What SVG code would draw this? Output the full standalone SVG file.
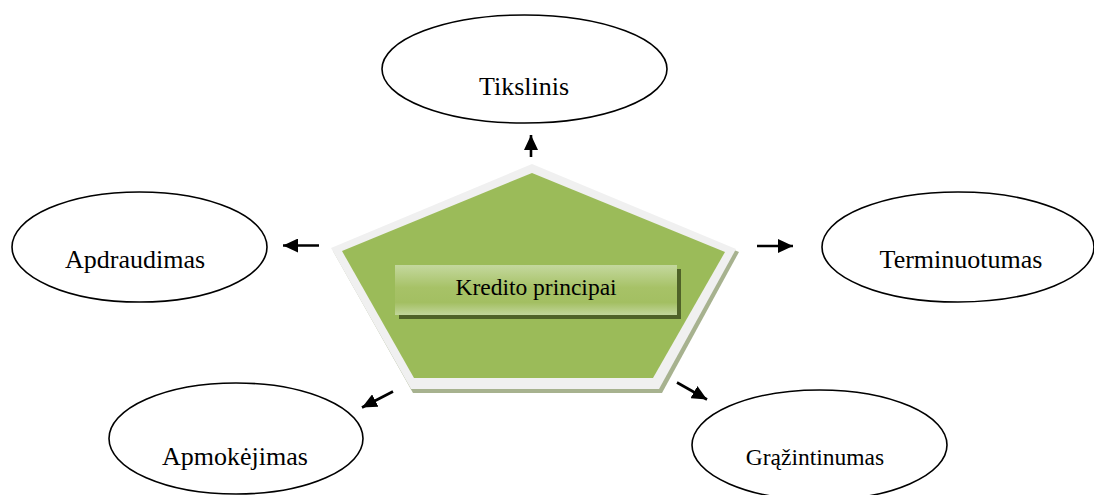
<svg xmlns="http://www.w3.org/2000/svg" width="1094" height="495" viewBox="0 0 1094 495">
  <style>
    .node ellipse { fill: #ffffff; stroke: #000000; stroke-width: 1.6; }
    .lbl { font-family: "Liberation Serif", "Times New Roman", serif; font-size: 26px; fill: #000000; text-anchor: middle; }
    .conn line { stroke: #000000; stroke-width: 2.6; }
  </style>
  <defs>
    <marker id="ah" markerUnits="userSpaceOnUse" markerWidth="16" markerHeight="14" refX="15" refY="7" orient="auto">
      <path d="M0,0 L15,7 L0,14 Z" fill="#000000"/>
    </marker>
    <linearGradient id="boxg" x1="0" y1="0" x2="0" y2="1">
      <stop offset="0" stop-color="#c4d89e"/>
      <stop offset="0.45" stop-color="#a7c267"/>
      <stop offset="0.75" stop-color="#a3bf62"/>
      <stop offset="1" stop-color="#c2d69b"/>
    </linearGradient>
  </defs>
  <rect width="1094" height="495" fill="#ffffff"/>

  <g id="center">
    <polygon points="535,167 739,252 662,393 413,393 333,251" fill="#a7b28f"/>
    <polygon points="532,164 736,249 659,389 411,389 331,248" fill="#f0f0f0"/>
    <polygon points="532,173 725,252 653,378 414,378 342,251" fill="#9bbb59"/>
    <rect x="399" y="269" width="282" height="50" fill="#4f6228"/>
    <rect x="395" y="265" width="282" height="50" fill="url(#boxg)"/>
    <text x="536" y="295" class="lbl" style="font-size:23.5px">Kredito principai</text>
  </g>

  <g id="tikslinis" class="node">
    <ellipse cx="524.5" cy="69" rx="142.5" ry="54"/>
    <text x="524" y="95" class="lbl">Tikslinis</text>
  </g>
  <g id="apdraudimas" class="node">
    <ellipse cx="139.5" cy="247" rx="127.5" ry="55"/>
    <text x="135" y="268" class="lbl">Apdraudimas</text>
  </g>
  <g id="terminuotumas" class="node">
    <ellipse cx="958" cy="247" rx="136" ry="55"/>
    <text x="961" y="268" class="lbl">Terminuotumas</text>
  </g>
  <g id="apmokejimas" class="node">
    <ellipse cx="236" cy="438.5" rx="127" ry="55.5"/>
    <text x="235" y="465" class="lbl">Apmokėjimas</text>
  </g>
  <g id="grazintinumas" class="node">
    <ellipse cx="819.5" cy="445" rx="127.5" ry="55"/>
    <text x="815" y="465" class="lbl" style="font-size:23.5px">Grąžintinumas</text>
  </g>

  <g id="connectors" class="conn">
    <line x1="531" y1="157" x2="531" y2="135" marker-end="url(#ah)"/>
    <line x1="319" y1="245.5" x2="283" y2="245.5" marker-end="url(#ah)"/>
    <line x1="757" y1="246" x2="793" y2="246" marker-end="url(#ah)"/>
    <line x1="393" y1="391.5" x2="362" y2="407.5" marker-end="url(#ah)"/>
    <line x1="677" y1="382.5" x2="707" y2="399.5" marker-end="url(#ah)"/>
  </g>
</svg>
